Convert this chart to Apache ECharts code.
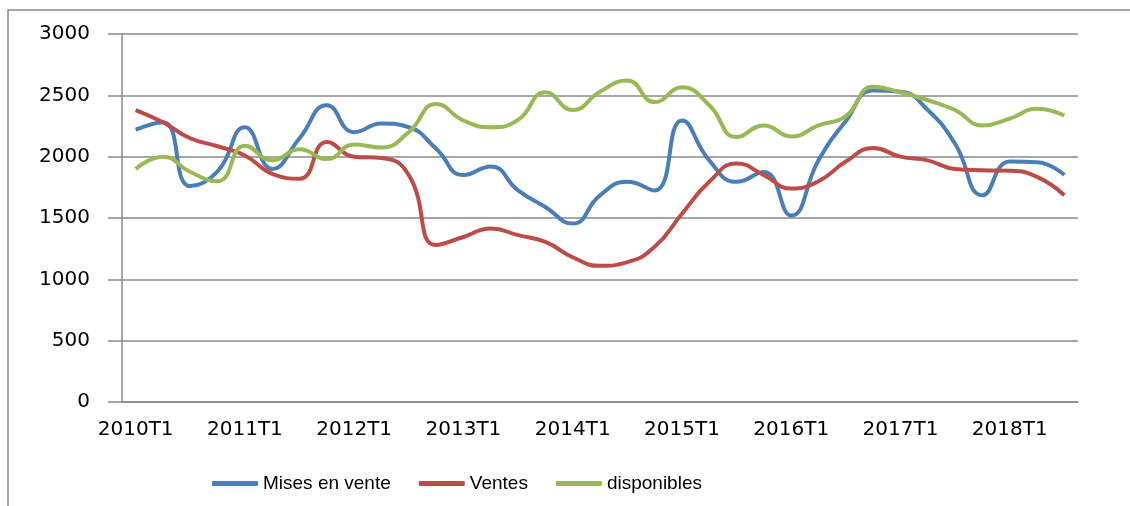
<!DOCTYPE html>
<html>
<head>
<meta charset="utf-8">
<script src="https://cdn.jsdelivr.net/npm/echarts@6/dist/echarts.min.js"></script>
<style>
  html, body { margin: 0; padding: 0; background: #fff; }
  #chart { width: 1130px; height: 506px; }
</style>
</head>
<body>
<div id="chart"></div>
<script>
  // trimestres 2010T1 .. 2018T3
  const categories = [
    '2010T1', '2010T2', '2010T3', '2010T4',
    '2011T1', '2011T2', '2011T3', '2011T4',
    '2012T1', '2012T2', '2012T3', '2012T4',
    '2013T1', '2013T2', '2013T3', '2013T4',
    '2014T1', '2014T2', '2014T3', '2014T4',
    '2015T1', '2015T2', '2015T3', '2015T4',
    '2016T1', '2016T2', '2016T3', '2016T4',
    '2017T1', '2017T2', '2017T3', '2017T4',
    '2018T1', '2018T2', '2018T3'
  ]

  const misesEnVente = [2220, 2280, 1760, 1880, 2240, 1900, 2150, 2420, 2200, 2270, 2240, 2065,
    1850, 1920, 1725, 1590, 1455, 1685, 1795, 1725, 2295, 1970, 1795, 1875,
    1520, 1970, 2290, 2540, 2530, 2380, 2105, 1685, 1960, 1955, 1850]

  const ventes = [2380, 2280, 2150, 2085, 2010, 1860, 1820, 2120, 2000, 1990, 1850, 1280,
    1345, 1415, 1360, 1305, 1180, 1110, 1140, 1265, 1535, 1795, 1945, 1850,
    1740, 1800, 1960, 2070, 2000, 1970, 1900, 1890, 1885, 1835, 1685]

  const disponibles = [1900, 2000, 1875, 1800, 2090, 1970, 2060, 1980, 2100, 2075, 2200, 2430,
    2295, 2240, 2300, 2525, 2380, 2530, 2620, 2445, 2565, 2420, 2160, 2255,
    2165, 2255, 2330, 2570, 2525, 2460, 2380, 2255, 2310, 2390, 2335]

  const gris = '#8a8a8a'

  const lineSerie = (name, data, color) => ({
    name: name,
    type: 'line',
    data: data,
    smooth: 0.5,
    symbol: 'none',
    lineStyle: { width: 4, color: color },
    itemStyle: { color: color }
  })

  const myChart = echarts.init(document.getElementById('chart'))
  myChart.setOption({
    animation: false,
    // cadre du graphique
    graphic: [{
      type: 'rect',
      shape: { x: 8, y: 10, width: 1140, height: 520 },
      style: { fill: 'none', stroke: '#888', lineWidth: 1.5 },
      silent: true
    }],
    grid: { left: 122, right: 52, top: 34, bottom: 104 },
    legend: {
      left: 207,
      top: 469,
      icon: 'roundRect',
      itemWidth: 46,
      itemHeight: 5,
      itemGap: 28,
      textStyle: { fontFamily: 'Liberation Sans', fontSize: 19, color: '#000' },
      data: ['Mises en vente', 'Ventes', 'disponibles']
    },
    xAxis: {
      type: 'category',
      data: categories,
      boundaryGap: true,
      axisLine: { lineStyle: { color: gris, width: 1.5 } },
      axisTick: { interval: 1, length: 8, lineStyle: { color: gris, width: 1.5 } },
      axisLabel: {
        interval: 3,
        margin: 18,
        fontFamily: 'DejaVu Sans',
        fontSize: 20,
        color: '#000'
      },
      splitLine: { show: false }
    },
    yAxis: {
      type: 'value',
      min: 0,
      max: 3000,
      interval: 500,
      axisLine: { show: true, lineStyle: { color: gris, width: 1.5 } },
      axisTick: { show: true, length: 14, lineStyle: { color: gris, width: 1.5 } },
      axisLabel: {
        margin: 32,
        fontFamily: 'DejaVu Sans',
        fontSize: 20,
        color: '#000',
        formatter: (v) => String(v)
      },
      splitLine: { show: true, lineStyle: { color: gris, width: 1.5, type: 'solid' } }
    },
    series: [
      lineSerie('Mises en vente', misesEnVente, '#4A7EBB'),
      lineSerie('Ventes', ventes, '#BE4B48'),
      lineSerie('disponibles', disponibles, '#98B954')
    ]
  })
</script>
</body>
</html>
